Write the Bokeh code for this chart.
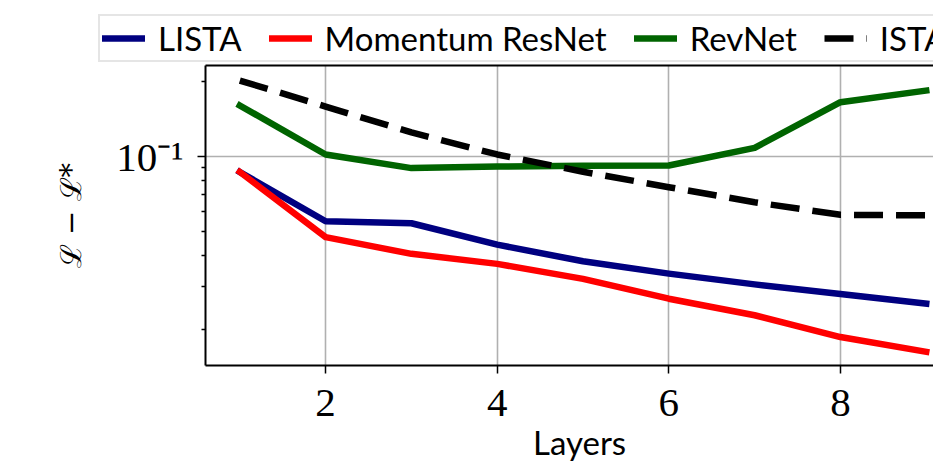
from bokeh.plotting import figure
from bokeh.layouts import column
from bokeh.models import Range1d, FixedTicker, Legend, LegendItem, Title, LinearAxis
from bokeh.embed import file_html
from bokeh.resources import INLINE

# ---- data ----
layers = [1, 2, 3, 4, 5, 6, 7, 8, 9]
lista = [0.0866, 0.0548, 0.0538, 0.0441, 0.0378, 0.0337, 0.0305, 0.0279, 0.0255]
momentum_resnet = [0.0866, 0.0473, 0.0405, 0.0369, 0.0321, 0.0267, 0.0229, 0.0187, 0.0163]
revnet = [0.1606, 0.1019, 0.0898, 0.0911, 0.0917, 0.0920, 0.1084, 0.1656, 0.1845]
ista = [0.2025, 0.1590, 0.1250, 0.1019, 0.0868, 0.0752, 0.0654, 0.0582, 0.0579]

series_names = ["LISTA", "Momentum ResNet", "RevNet", "ISTA"]
series_values = [lista, momentum_resnet, revnet, ista]
x_ticks = [2, 4, 6, 8]
y_major_ticks = [0.1]
y_minor_ticks = [0.02, 0.03, 0.04, 0.05, 0.06, 0.07, 0.08, 0.09, 0.2]
y_tick_labels = {0.1: "10\u207b\u00b9"}
x_label = "Layers"
y_label = "\u2112 \u2212 \u2112*"

SANS = "Lato"
SERIF = "Liberation Serif"
LW = 6.5
styles = [
    dict(line_color="#000080", line_cap="square"),
    dict(line_color="#ff0000", line_cap="square"),
    dict(line_color="#006400", line_cap="square"),
    dict(line_color="black", line_cap="butt", line_dash="29 13"),
]

TOP_H = 64
W, H = 933, 464

# ---------------- main plot ----------------
p = figure(
    width=W, height=H - TOP_H,
    output_backend="svg", toolbar_location=None,
    y_axis_type="log",
    x_range=Range1d(0.6, 0.6 + 728 / 85.8),
    y_range=Range1d(0.01436, 0.2328),
    min_border_left=205, min_border_right=0,
    min_border_top=1, min_border_bottom=99,
)
p.outline_line_color = None
p.background_fill_color = "white"
p.border_fill_color = "white"

for vals, st in zip(series_values, styles):
    p.line(layers, vals, line_width=LW, line_join="round", **st)

p.xaxis.ticker = FixedTicker(ticks=x_ticks)
p.xaxis.major_label_text_font = SERIF
p.xaxis.major_label_text_font_size = "41px"
p.xaxis.major_label_text_color = "black"
p.xaxis.major_label_standoff = 16
p.xaxis.major_tick_out = 8
p.xaxis.major_tick_in = 0
p.xaxis.major_tick_line_width = 1.5
p.xaxis.minor_tick_line_color = None
p.xaxis.axis_line_width = 2

p.yaxis.ticker = FixedTicker(ticks=y_major_ticks, minor_ticks=y_minor_ticks)
p.yaxis.major_label_overrides = y_tick_labels
p.yaxis.major_label_text_font = SERIF
p.yaxis.major_label_text_font_size = "41px"
p.yaxis.major_label_text_color = "black"
p.yaxis.major_label_standoff = 14
p.yaxis.major_tick_out = 8
p.yaxis.major_tick_in = 0
p.yaxis.minor_tick_out = 4
p.yaxis.minor_tick_in = 0
p.yaxis.major_tick_line_width = 1.5
p.yaxis.minor_tick_line_width = 1.5
p.yaxis.axis_line_width = 2
p.yaxis.axis_label = y_label
p.yaxis.axis_label_text_font = "DejaVu Serif"
p.yaxis.axis_label_text_font_style = "normal"
p.yaxis.axis_label_text_font_size = "29px"
p.yaxis.axis_label_text_color = "black"
p.yaxis.axis_label_standoff = 25

# top spine
top_axis = LinearAxis(ticker=FixedTicker(ticks=[]), major_label_text_font_size="0px",
                      major_label_standoff=0, major_tick_out=0, major_tick_in=0,
                      minor_tick_out=0, minor_tick_in=0,
                      axis_line_width=2, major_tick_line_color=None, minor_tick_line_color=None)
p.add_layout(top_axis, "above")

p.xgrid.grid_line_color = "#b0b0b0"
p.xgrid.grid_line_width = 1.6
p.ygrid.grid_line_color = "#b0b0b0"
p.ygrid.grid_line_width = 1.6

# x axis label, centred on the full (partly hidden) frame
p.add_layout(Title(text=x_label, align="left", offset=327.5, text_font=SANS,
                   text_font_size="33px", text_font_style="normal", text_color="black",
                   standoff=3), "below")

# ---------------- legend strip ----------------
lg = figure(width=W, height=TOP_H, output_backend="svg", toolbar_location=None,
            x_axis_location=None, y_axis_location=None,
            x_range=Range1d(0, 10), y_range=Range1d(1, 2),
            min_border=0)
lg.outline_line_color = None
lg.grid.visible = False
lg.background_fill_color = "white"
lg.border_fill_color = "white"
lrs = [lg.line(layers, vals, line_width=LW, line_join="round", **st)
       for vals, st in zip(series_values, styles)]

for fig in (lg, p):
    try:
        fig.frame_align = False
    except Exception:
        pass

legend = Legend(
    items=[LegendItem(label=n, renderers=[r]) for n, r in zip(series_names, lrs)],
    orientation="horizontal", location=(98, TOP_H - 62),
    glyph_width=43, glyph_height=20, label_standoff=13, spacing=27, padding=2, margin=0,
    label_text_font=SANS, label_text_font_size="33px", label_text_color="black",
    border_line_color="#cccccc", border_line_width=2,
    background_fill_color="white", background_fill_alpha=0.8,
)
lg.add_layout(legend, "center")

layout = column(lg, p, spacing=0)
open("out.html", "w").write(file_html(layout, INLINE))
